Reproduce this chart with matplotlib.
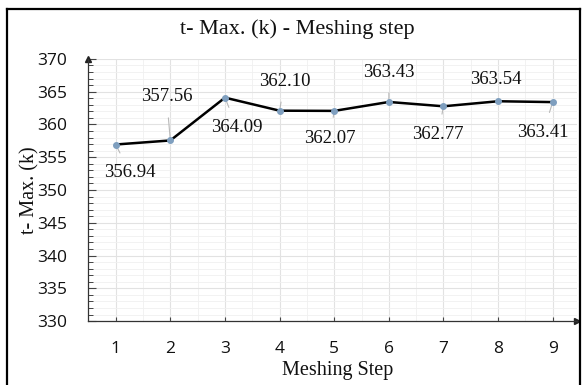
import numpy as np
import matplotlib.pyplot as plt
from matplotlib.ticker import MultipleLocator
from matplotlib.lines import Line2D

# data
steps = [1, 2, 3, 4, 5, 6, 7, 8, 9]
t_max = [356.94, 357.56, 364.09, 362.10, 362.07, 363.43, 362.77, 363.54, 363.41]
labels = ["356.94", "357.56", "364.09", "362.10", "362.07", "363.43", "362.77", "363.54", "363.41"]
# where each value label sits (data coords)
label_x = [1.26, 1.93, 3.22, 4.09, 4.92, 6.0, 6.9, 7.96, 8.82]
label_y = [352.6, 364.2, 359.5, 366.6, 357.9, 368.0, 358.4, 366.8, 358.7]

serif = "Liberation Serif"
sans = "Open Sans"

W, H = 582, 385
fig = plt.figure(figsize=(W / 100, H / 100), dpi=100)
ax = fig.add_axes([0.151, 0.166, 0.840, 0.681])

ax.set_xlim(0.49, 9.44)
ax.set_ylim(330, 370)

ax.xaxis.set_major_locator(MultipleLocator(1))
ax.xaxis.set_minor_locator(MultipleLocator(0.5))
ax.yaxis.set_major_locator(MultipleLocator(5))
ax.yaxis.set_minor_locator(MultipleLocator(1))

ax.grid(which="major", color="#e2e2e2", lw=0.8)
ax.grid(which="minor", color="#f0f0f0", lw=0.6)
ax.set_axisbelow(True)

for s in ["top", "right"]:
    ax.spines[s].set_visible(False)
for s in ["left", "bottom"]:
    ax.spines[s].set_color("#333333")
    ax.spines[s].set_linewidth(0.9)

ax.tick_params(axis="y", which="major", direction="in", length=6, width=0.8, color="#444444", pad=15, labelsize=12.5)
ax.tick_params(axis="y", which="minor", direction="in", length=3.5, width=0.7, color="#444444")
ax.tick_params(axis="x", which="major", direction="in", length=3, width=0.8, color="#444444", pad=14, labelsize=12.5)
ax.tick_params(axis="x", which="minor", length=0)
for lab in ax.get_xticklabels() + ax.get_yticklabels():
    lab.set_fontfamily(sans)
    lab.set_color("#111111")

# axis arrows
ax.plot(1, 0, marker=">", ms=4, color="#222222", transform=ax.transAxes, clip_on=False)
ax.plot(0, 1, marker="^", ms=4, color="#222222", transform=ax.transAxes, clip_on=False)

ax.plot(steps, t_max, color="black", lw=1.8, zorder=3)
ax.plot(steps, t_max, "o", ms=4, color="#7f9fbf", zorder=4)

for xs, ys, txt, lx, ly in zip(steps, t_max, labels, label_x, label_y):
    ax.annotate(txt, xy=(xs, ys), xytext=(lx, ly), ha="center", va="center",
                fontsize=13.5, family=serif, color="#111111",
                arrowprops=dict(arrowstyle="-", color="#b8b8b8", lw=0.8, shrinkA=7, shrinkB=2))

fig.text(297 / W, 1 - 29 / H, "t- Max. (k) - Meshing step", family=serif, fontsize=16,
         ha="center", va="center", color="#111111")
fig.text(338 / W, 1 - 371 / H, "Meshing Step", family=serif, fontsize=14.5,
         ha="center", va="center", color="#111111")
ax.set_ylabel("t- Max. (k)", family=serif, fontsize=14.5, labelpad=-2, color="#111111")

# outer frame
fig.add_artist(Line2D([7 / W, 7 / W], [0, 1 - 9 / H], color="black", lw=1.6, transform=fig.transFigure))
fig.add_artist(Line2D([7 / W, 580 / W], [1 - 9 / H, 1 - 9 / H], color="black", lw=1.6, transform=fig.transFigure))
fig.add_artist(Line2D([580 / W, 580 / W], [0, 1 - 9 / H], color="black", lw=1.6, transform=fig.transFigure))

fig.savefig("out.png", dpi=100)
